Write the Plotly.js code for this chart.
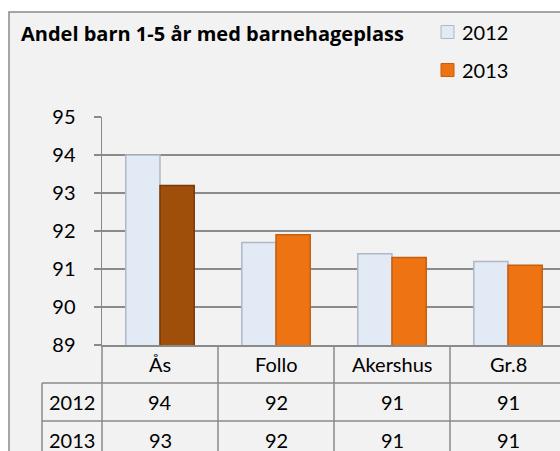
<!DOCTYPE html>
<html><head><meta charset="utf-8">
<script src="https://cdn.plot.ly/plotly-3.0.1.min.js"></script>
<style>html,body{margin:0;padding:0;overflow:hidden;background:#fff}#chart{width:600px;height:451px}</style>
</head><body><div id="chart"></div>
<script>
// ---- data ----
var categories = ["Ås", "Follo", "Akershus", "Gr.8"];
var seriesNames = ["2012", "2013"];
var values2012 = [94.0, 91.7, 91.4, 91.2];
var values2013 = [93.2, 91.9, 91.3, 91.1];
var yTicks = [89, 90, 91, 92, 93, 94, 95];

// ---- styles / geometry ----
var W = 600, H = 451, ML = 102, MR = 34, MT = 117, MB = 106;
var PW = W - ML - MR, PH = H - MT - MB;
function px(p){ return (p - ML) / PW; }
function py(p){ return (H - MB - p) / PH; }
var FONT = "Lato, 'Open Sans', sans-serif";
var TITLEFONT = "'Open Sans', Lato, sans-serif";
var GRID = "#8a8a8a";
var lightFill = "#e1eaf5", lightLine = "#aeb9c6";
var orangeFill = "#ee7413", orangeLine = "#c55f0c";
var darkFill = "#a04f0b", darkLine = "#7a3a06";
var colors2013 = values2013.map(function(v,i){ return i === 0 ? darkFill : orangeFill; });
var lines2013 = values2013.map(function(v,i){ return i === 0 ? darkLine : orangeLine; });

var traces = [
  {type:"bar", name:seriesNames[0], x:categories, y:values2012,
   marker:{color:lightFill, line:{color:lightLine, width:1.5}}, showlegend:false, hoverinfo:"none"},
  {type:"bar", name:seriesNames[1], x:categories, y:values2013,
   marker:{color:colors2013, line:{color:lines2013, width:1.5}}, showlegend:false, hoverinfo:"none"}
];

var shapes = [
  {type:"rect", xref:"paper", yref:"paper", x0:px(9), x1:px(W+20), y0:py(12), y1:py(H+20),
   fillcolor:"#f2f2f2", line:{color:"#898989", width:1.5}, layer:"below"}
];
var rowLines = [383, 421];
rowLines.forEach(function(yy){
  shapes.push({type:"line", xref:"paper", yref:"paper", x0:px(42), x1:px(W+10), y0:py(yy), y1:py(yy),
    line:{color:GRID, width:1.5}});
});
shapes.push({type:"line", xref:"paper", yref:"paper", x0:px(42), x1:px(42), y0:py(383), y1:py(H+10),
  line:{color:GRID, width:1.5}});
for (var i = 0; i <= categories.length; i++) {
  var xp = i / categories.length;
  shapes.push({type:"line", xref:"paper", yref:"paper", x0:xp, x1:xp, y0:0, y1:py(H+10),
    line:{color:GRID, width:1.5}});
}

var annotations = [];
var rowCenters = [364, 402, 440];
categories.forEach(function(c, i){
  annotations.push({xref:"x", yref:"paper", x:c, y:py(rowCenters[0]), text:c, showarrow:false,
    xanchor:"center", yanchor:"middle", font:{family:FONT, size:20, color:"#000"}});
  annotations.push({xref:"x", yref:"paper", x:c, y:py(rowCenters[1]), text:String(Math.round(values2012[i])),
    showarrow:false, xanchor:"center", yanchor:"middle", font:{family:FONT, size:20, color:"#000"}});
  annotations.push({xref:"x", yref:"paper", x:c, y:py(rowCenters[2]), text:String(Math.round(values2013[i])),
    showarrow:false, xanchor:"center", yanchor:"middle", font:{family:FONT, size:20, color:"#000"}});
});
seriesNames.forEach(function(n, k){
  annotations.push({xref:"paper", yref:"paper", x:px(72), y:py(rowCenters[k+1]), text:n, showarrow:false,
    xanchor:"center", yanchor:"middle", font:{family:FONT, size:20, color:"#000"}});
});
var legendY = [32, 70];
var swatchFill = [lightFill, orangeFill], swatchLine = [lightLine, orangeLine];
seriesNames.forEach(function(n, k){
  shapes.push({type:"rect", xref:"paper", yref:"paper", x0:px(441), x1:px(454),
    y0:py(legendY[k]-6.5), y1:py(legendY[k]+6.5), fillcolor:swatchFill[k], line:{color:swatchLine[k], width:1}});
  annotations.push({xref:"paper", yref:"paper", x:px(460), y:py(legendY[k]), text:n, showarrow:false,
    xanchor:"left", yanchor:"middle", font:{family:FONT, size:20, color:"#000"}});
});

var layout = {
  width:W, height:H,
  margin:{l:ML, r:MR, t:MT, b:MB, pad:0},
  paper_bgcolor:"#ffffff", plot_bgcolor:"rgba(0,0,0,0)",
  font:{family:FONT, size:20, color:"#000"},
  title:{text:"<b>Andel barn 1-5 år med barnehageplass</b>", xref:"container", yref:"container",
    x:21/W, xanchor:"left", y:1-34/H, yanchor:"middle", font:{family:TITLEFONT, size:20, color:"#000"}},
  bargap:0.41, bargroupgap:0, barmode:"group",
  showlegend:false,
  xaxis:{type:"category", range:[-0.5, categories.length-0.5], showticklabels:false, ticks:"",
    showgrid:false, zeroline:false, showline:true, linecolor:GRID, linewidth:1.5, fixedrange:true},
  yaxis:{range:[yTicks[0], yTicks[yTicks.length-1]], tickvals:yTicks, ticks:"outside", ticklen:7,
    tickcolor:GRID, tickwidth:1.5, showgrid:true, gridcolor:GRID, gridwidth:1.5, zeroline:false,
    showline:true, linecolor:GRID, linewidth:1.5, ticklabelstandoff:14,
    tickfont:{family:FONT, size:20, color:"#000"}, fixedrange:true},
  shapes:shapes, annotations:annotations
};
Plotly.newPlot("chart", traces, layout, {staticPlot:true, displayModeBar:false});
</script></body></html>
